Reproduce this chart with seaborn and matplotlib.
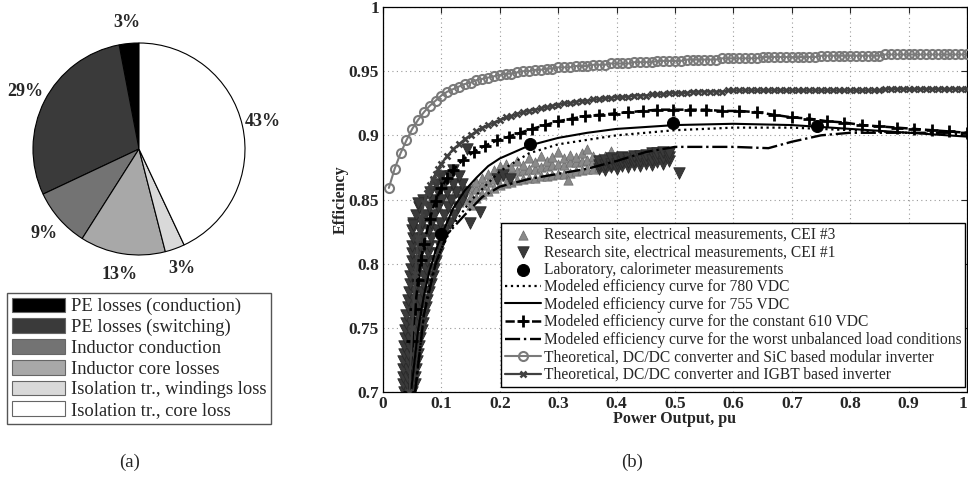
import numpy as np
import matplotlib
matplotlib.use('Agg')
import matplotlib.pyplot as plt
import seaborn as sns

# ---------------- (a) loss breakdown ----------------
loss_names = ['PE losses (conduction)', 'PE losses (switching)', 'Inductor conduction',
              'Inductor core losses', 'Isolation tr., windings loss', 'Isolation tr., core loss']
loss_share = [3, 29, 9, 13, 3, 43]
loss_colors = ['#000000', '#3a3a3a', '#737373', '#a8a8a8', '#d9d9d9', '#ffffff']

# ---------------- (b) efficiency vs power ----------------
# theoretical SiC curve, one point every 0.01 pu
sic_pu = np.round(np.arange(1, 101) * 0.01, 2)
sic_eff = [.859, .874, .886, .896, .905, .912, .918, .923, .927, .931,
           .934, .936, .938, .940, .941, .943, .944, .945, .946, .947,
           .948, .948, .949, .950, .950, .951, .951, .952, .952, .953,
           .953, .953, .954, .954, .954, .955, .955, .955, .956, .956,
           .956, .956, .957, .957, .957, .957, .958, .958, .958, .958,
           .958, .959, .959, .959, .959, .959, .959, .960, .960, .960,
           .960, .960, .960, .960, .961, .961, .961, .961, .961, .961,
           .961, .961, .961, .961, .962, .962, .962, .962, .962, .962,
           .962, .962, .962, .962, .962, .963, .963, .963, .963, .963,
           .963, .963, .963, .963, .963, .963, .963, .963, .963, .963]

# theoretical IGBT curve
igbt_pu = [0.045, 0.05, 0.055, 0.06, 0.065, 0.07, 0.075, 0.08, 0.085, 0.09, 0.095] + \
    list(np.round(np.arange(10, 101) * 0.01, 2))
igbt_eff = [.700, .750, .792, .820, .836, .847, .855, .861, .866, .870, .874,
            .878,
            .884, .889, .893, .897, .900, .903, .906, .908, .910, .912,
            .914, .915, .917, .918, .919, .920, .921, .922, .923, .924,
            .925, .925, .926, .927, .927, .928, .928, .929, .929, .930,
            .930, .930, .931, .931, .931, .932, .932, .932, .933, .933,
            .933, .933, .934, .934, .934, .934, .934, .934, .935, .935,
            .935, .935, .935, .935, .935, .935, .935, .935, .935, .935,
            .935, .935, .935, .935, .935, .935, .935, .935, .935, .935,
            .935, .935, .935, .935, .935, .936, .936, .936, .936, .936,
            .936, .936, .936, .936, .936, .936, .936, .936, .936, .936]

# modeled curves
v610_pu = [0.045, 0.05, 0.055, 0.06, 0.065, 0.07, 0.08, 0.09, 0.10, 0.11, 0.12,
           0.137, 0.155, 0.175, 0.195, 0.215, 0.235, 0.255, 0.278, 0.30, 0.323,
           0.346, 0.37, 0.395, 0.42, 0.445, 0.47, 0.497, 0.525, 0.553, 0.58,
           0.61, 0.64, 0.67, 0.70, 0.73, 0.76, 0.79, 0.82, 0.85, 0.88, 0.91,
           0.94, 0.97, 1.0]
v610_eff = [.700, .740, .765, .787, .803, .815, .835, .849, .859, .867, .873,
            .881, .887, .892, .896, .899, .902, .905, .908, .911, .913,
            .915, .916, .917, .918, .919, .920, .920, .920, .920, .919,
            .919, .918, .916, .914, .913, .911, .910, .908, .907, .906, .905,
            .904, .903, .902]

v755_pu = [0.048, 0.06, 0.07, 0.08, 0.09, 0.10, 0.12, 0.14, 0.16, 0.18, 0.20,
           0.25, 0.30, 0.35, 0.40, 0.50, 0.60, 0.70, 0.80, 0.90, 1.0]
v755_eff = [.700, .748, .775, .795, .810, .822, .843, .857, .867, .876, .882,
            .892, .898, .902, .905, .908, .909, .908, .905, .902, .899]

v780_pu = [0.055, 0.07, 0.08, 0.10, 0.12, 0.15, 0.20, 0.25, 0.30, 0.40, 0.50,
           0.60, 0.70, 0.80, 0.90, 1.0]
v780_eff = [.700, .760, .785, .812, .830, .849, .872, .886, .893, .900, .904,
            .906, .906, .904, .902, .900]

worst_pu = [0.055, 0.07, 0.09, 0.11, 0.14, 0.17, 0.20, 0.25, 0.30, 0.35, 0.40,
            0.45, 0.50, 0.55, 0.60, 0.66, 0.70, 0.75, 0.80, 0.90, 1.0]
worst_eff = [.700, .760, .800, .823, .838, .852, .860, .866, .870, .874, .880,
             .887, .891, .891, .891, .890, .895, .900, .902, .902, .902]

# laboratory calorimeter points
lab_pu = [0.10, 0.252, 0.497, 0.743]
lab_eff = [0.823, 0.893, 0.910, 0.907]

# research site CEI #1 (dense low-load cloud, rows by efficiency)
cei1_rows = {
    0.700: [0.036, 0.043, 0.050], 0.706: [0.034, 0.041, 0.048, 0.054],
    0.712: [0.034, 0.041, 0.048, 0.055], 0.718: [0.035, 0.042, 0.050, 0.057],
    0.724: [0.035, 0.042, 0.050, 0.059], 0.730: [0.036, 0.043, 0.051, 0.060],
    0.736: [0.036, 0.044, 0.053, 0.062], 0.742: [0.037, 0.045, 0.054, 0.064],
    0.748: [0.038, 0.046, 0.056, 0.067], 0.754: [0.039, 0.048, 0.058, 0.069],
    0.760: [0.040, 0.049, 0.060, 0.071], 0.766: [0.042, 0.051, 0.062, 0.074],
    0.772: [0.043, 0.053, 0.064, 0.076], 0.778: [0.045, 0.055, 0.066, 0.079],
    0.784: [0.046, 0.057, 0.068, 0.082], 0.790: [0.047, 0.058, 0.070, 0.085],
    0.796: [0.048, 0.060, 0.073, 0.088], 0.802: [0.049, 0.061, 0.075, 0.091],
    0.808: [0.050, 0.063, 0.077, 0.094], 0.814: [0.050, 0.064, 0.079, 0.097],
    0.820: [0.051, 0.066, 0.082, 0.100], 0.826: [0.050, 0.064, 0.078, 0.093, 0.107],
    0.832: [0.052, 0.067, 0.082, 0.098, 0.114], 0.838: [0.056, 0.072, 0.088, 0.105, 0.121],
    0.844: [0.062, 0.078, 0.094, 0.111, 0.128], 0.850: [0.068, 0.084, 0.100, 0.117, 0.136],
    0.856: [0.080, 0.095, 0.110, 0.125, 0.140], 0.862: [0.090, 0.105, 0.120, 0.135],
    0.868: [0.100, 0.115, 0.130], 0.873: [0.120],
}
# CEI #1 mid-load band, rows by power
cei1_band = {
    0.37: [0.874, 0.877, 0.880], 0.38: [0.873, 0.877, 0.881], 0.39: [0.875, 0.878, 0.882],
    0.40: [0.874, 0.878, 0.881], 0.41: [0.876, 0.879, 0.883], 0.42: [0.875, 0.879, 0.882],
    0.43: [0.877, 0.880, 0.884], 0.44: [0.876, 0.880, 0.884], 0.45: [0.878, 0.881, 0.885],
    0.46: [0.877, 0.881, 0.886], 0.47: [0.879, 0.882, 0.886], 0.48: [0.878, 0.882, 0.887],
    0.49: [0.880, 0.883, 0.886],
}
cei1_extra = [(0.051, 0.830), (0.060, 0.847), (0.149, 0.832), (0.166, 0.840), (0.143, 0.889),
              (0.195, 0.866), (0.205, 0.869), (0.217, 0.866), (0.507, 0.871)]

# research site CEI #3, rows by power
cei3_band = {
    0.13: [0.848, 0.856], 0.14: [0.850, 0.858], 0.15: [0.846, 0.853, 0.860],
    0.16: [0.851, 0.858, 0.864], 0.17: [0.854, 0.861, 0.867], 0.18: [0.857, 0.864, 0.870],
    0.19: [0.859, 0.866, 0.873], 0.20: [0.861, 0.868, 0.876], 0.21: [0.863, 0.870, 0.878],
    0.22: [0.864, 0.871, 0.875], 0.23: [0.865, 0.872, 0.880], 0.24: [0.866, 0.873, 0.877],
    0.25: [0.867, 0.874, 0.882], 0.26: [0.867, 0.874, 0.879], 0.27: [0.868, 0.875, 0.884],
    0.28: [0.868, 0.876, 0.880], 0.29: [0.869, 0.877, 0.883], 0.30: [0.870, 0.878, 0.887],
    0.31: [0.870, 0.877, 0.882], 0.32: [0.871, 0.879, 0.885], 0.33: [0.872, 0.879, 0.883],
    0.34: [0.873, 0.880, 0.886], 0.35: [0.874, 0.881, 0.889], 0.36: [0.874, 0.880, 0.884],
    0.37: [0.875, 0.882], 0.38: [0.876, 0.884], 0.39: [0.877, 0.888], 0.40: [0.878, 0.885],
}
cei3_extra = [(0.317, 0.865), (0.052, 0.730), (0.060, 0.780), (0.070, 0.800),
              (0.085, 0.830), (0.095, 0.845), (0.110, 0.852), (0.125, 0.858)]

legend_order = [
    'Research site, electrical measurements, CEI #3',
    'Research site, electrical measurements, CEI #1',
    'Laboratory, calorimeter measurements',
    'Modeled efficiency curve for 780 VDC',
    'Modeled efficiency curve for 755 VDC',
    'Modeled efficiency curve for the constant 610 VDC',
    'Modeled efficiency curve for the worst unbalanced load conditions',
    'Theoretical, DC/DC converter and SiC based modular inverter',
    'Theoretical, DC/DC converter and IGBT based inverter',
]


def flatten_by_eff(rows):
    pts = [(p, e) for e, ps in rows.items() for p in ps]
    return [p for p, _ in pts], [e for _, e in pts]


def flatten_by_pu(rows):
    pts = [(p, e) for p, es in rows.items() for e in es]
    return [p for p, _ in pts], [e for _, e in pts]


sns.set_style('white')
plt.rcParams['font.family'] = ['Liberation Serif', 'DejaVu Serif']
plt.rcParams['axes.linewidth'] = 0.9

fig = plt.figure(figsize=(9.68, 4.8), dpi=100)

# ---- pie ----
ax_pie = fig.add_axes([33 / 968, 1 - 255 / 480, 212 / 968, 212 / 480])
wedges, _, autotexts = ax_pie.pie(
    loss_share, colors=loss_colors, startangle=90, counterclock=True,
    autopct='%.0f%%', pctdistance=1.2, radius=1,
    wedgeprops=dict(edgecolor='black', linewidth=0.8),
    textprops=dict(fontsize=13, fontweight='bold'))
ax_pie.set_xlim(-1, 1)
ax_pie.set_ylim(-1, 1)
ax_pie.set_aspect('equal')
ax_pie.axis('off')

leg_a = fig.legend(wedges, loss_names, loc='upper left',
                   bbox_to_anchor=(7 / 968, 1 - 293 / 480), bbox_transform=fig.transFigure,
                   fontsize=13.3, fancybox=False, frameon=True, edgecolor='#555555',
                   framealpha=1, handlelength=2.9, handleheight=0.85, borderpad=0.25,
                   labelspacing=0.16, handletextpad=0.3, borderaxespad=0)
for p in leg_a.get_patches():
    p.set_edgecolor('#666666')

# ---- efficiency ----
ax = fig.add_axes([383 / 968, 1 - 392 / 480, 584 / 968, 385 / 480])

x3, y3 = flatten_by_pu(cei3_band)
x3 += [p for p, _ in cei3_extra]
y3 += [e for _, e in cei3_extra]
sns.scatterplot(x=x3, y=y3, ax=ax, marker='^', s=45, color='#8a8a8a',
                edgecolor='#6a6a6a', linewidth=0.5, label=legend_order[0], zorder=2)

x1a, y1a = flatten_by_eff(cei1_rows)
x1b, y1b = flatten_by_pu(cei1_band)
x1 = x1a + x1b + [p for p, _ in cei1_extra]
y1 = y1a + y1b + [e for _, e in cei1_extra]
sns.scatterplot(x=x1, y=y1, ax=ax, marker='v', s=68, color='#3a3a3a',
                edgecolor='#2a2a2a', linewidth=0.6, label=legend_order[1], zorder=2)

sns.scatterplot(x=lab_pu, y=lab_eff, ax=ax, marker='o', s=75, color='black',
                edgecolor='black', label=legend_order[2], zorder=4)

line_kw = dict(ax=ax, sort=False, estimator=None)
sns.lineplot(x=v780_pu, y=v780_eff, color='black', linestyle=':', linewidth=1.6,
             label=legend_order[3], zorder=3, **line_kw)
sns.lineplot(x=v755_pu, y=v755_eff, color='black', linestyle='-', linewidth=1.5,
             label=legend_order[4], zorder=3, **line_kw)
sns.lineplot(x=v610_pu, y=v610_eff, color='black', linestyle='--', linewidth=1.8,
             marker='+', markersize=8, markeredgewidth=2, markeredgecolor='black',
             label=legend_order[5], zorder=3, **line_kw)
sns.lineplot(x=worst_pu, y=worst_eff, color='black', linestyle='-.', linewidth=1.7,
             label=legend_order[6], zorder=3, **line_kw)
sns.lineplot(x=sic_pu, y=sic_eff, color='#7a7a7a', linestyle='-', linewidth=1.5,
             marker='o', markersize=6.5, markerfacecolor='none', markeredgewidth=1.5,
             markeredgecolor='#7a7a7a', label=legend_order[7], zorder=3, **line_kw)
sns.lineplot(x=igbt_pu, y=igbt_eff, color='#404040', linestyle='-', linewidth=1.6,
             marker='x', markersize=5, markeredgewidth=1.8, markeredgecolor='#404040',
             label=legend_order[8], zorder=3, **line_kw)

ax.set_xlim(0, 1)
ax.set_ylim(0.7, 1.0)
ax.set_xticks(np.round(np.arange(0, 11) * 0.1, 1))
ax.set_xticklabels(['0', '0.1', '0.2', '0.3', '0.4', '0.5', '0.6', '0.7', '0.8', '0.9', '1'])
ax.set_yticks([0.7, 0.75, 0.8, 0.85, 0.9, 0.95, 1.0])
ax.set_yticklabels(['0.7', '0.75', '0.8', '0.85', '0.9', '0.95', '1'])
ax.tick_params(direction='in', top=True, right=True, length=4, width=0.8,
               labelsize=12.5, pad=3)
for t in ax.get_xticklabels() + ax.get_yticklabels():
    t.set_fontweight('bold')
ax.get_xticklabels()[-1].set_horizontalalignment('right')
ax.grid(True, color='#9a9a9a', linestyle=(0, (1, 3)), linewidth=0.8)
ax.set_axisbelow(True)
for s in ax.spines.values():
    s.set_color('black')
ax.set_xlabel('Power Output, pu', fontsize=11.5, fontweight='bold', labelpad=-1)
ax.set_ylabel('Efficiency', fontsize=11.5, fontweight='bold', labelpad=0)

handles, labels = ax.get_legend_handles_labels()
hmap = dict(zip(labels, handles))
ax.legend([hmap[l] for l in legend_order], legend_order, loc='lower right',
          bbox_to_anchor=(0.9966, 0.013), fontsize=11.2, fancybox=False,
          framealpha=1, edgecolor='black', borderpad=0.25, labelspacing=0.1,
          handlelength=2.3, handletextpad=0.2, borderaxespad=0)

fig.text(130 / 968, 1 - 462 / 480, '(a)', ha='center', va='center', fontsize=13.5)
fig.text(632 / 968, 1 - 462 / 480, '(b)', ha='center', va='center', fontsize=13.5)

fig.savefig('out.png', dpi=100)
